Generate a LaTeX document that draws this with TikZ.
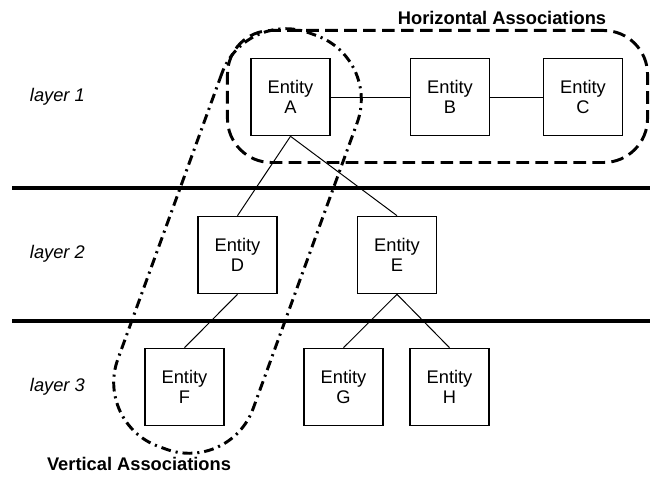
\documentclass[tikz,border=0pt]{standalone}
\usepackage{fontspec}
\setmainfont{Liberation Sans}
\tikzset{
  entity/.style  ={draw, line width=1pt, minimum width=1.98cm, minimum height=1.93cm,
                   inner sep=0pt, align=center, font=\fontsize{13}{14}\selectfont},
  layerlabel/.style={anchor=west, font=\fontsize{13}{15}\selectfont\itshape},
  assoclabel/.style={font=\fontsize{13}{15}\selectfont\bfseries},
  link/.style    ={line width=0.7pt},
  divider/.style ={line width=2.8pt},
  hassoc/.style  ={draw, line width=2.1pt, dash pattern=on 9pt off 4.5pt, rounded corners=1.1cm},
  vassoc/.style  ={draw, line width=2.1pt, dash pattern=on 7pt off 3.5pt on 1.5pt off 3.5pt,
                   rounded corners=1.7cm},
}

\begin{document}
\begin{tikzpicture}[x=0.025cm, y=-0.025cm]
            \useasboundingbox                                   (0, 0) rectangle (652, 477);
            % layers
            \draw[divider]                                      ( 12, 188) -- (650, 188);
            \draw[divider]                                      ( 12, 321) -- (650, 321);
            \node[layerlabel] (l1)                           at ( 25,  97) {layer 1};
            \node[layerlabel] (l2)                           at ( 25, 254) {layer 2};
            \node[layerlabel] (l3)                           at ( 25, 387) {layer 3};
            % entities
            \node[entity] (A)                                at (290.5,  97) {Entity\\A};
            \node[entity] (B)                                at (450.0,  97) {Entity\\B};
            \node[entity] (C)                                at (583.0,  97) {Entity\\C};
            \node[entity] (D)                                at (237.5, 255) {Entity\\D};
            \node[entity] (E)                                at (397.0, 255) {Entity\\E};
            \node[entity] (F)                                at (184.5, 387) {Entity\\F};
            \node[entity] (G)                                at (343.5, 387) {Entity\\G};
            \node[entity] (H)                                at (449.5, 387) {Entity\\H};
            % links
            \draw[link] (A.east)  -- (B.west);
            \draw[link] (B.east)  -- (C.west);
            \draw[link] (A.south) -- (D.north);
            \draw[link] (A.south) -- (E.north);
            \draw[link] (D.south) -- (F.north);
            \draw[link] (E.south) -- (G.north);
            \draw[link] (E.south) -- (H.north);
            % associations
            \node[hassoc, minimum width=10.5cm, minimum height=3.3cm] (horiz) at (437.5, 96.5) {};
            \node[vassoc, rotate=70, minimum width=11.0cm, minimum height=3.6cm] (vert) at (237.5, 241) {};
            \node[assoclabel] (hname)                        at (502,  18) {Horizontal Associations};
            \node[assoclabel] (vname)                        at (139, 464) {Vertical Associations};
        \end{tikzpicture}
\end{document}
